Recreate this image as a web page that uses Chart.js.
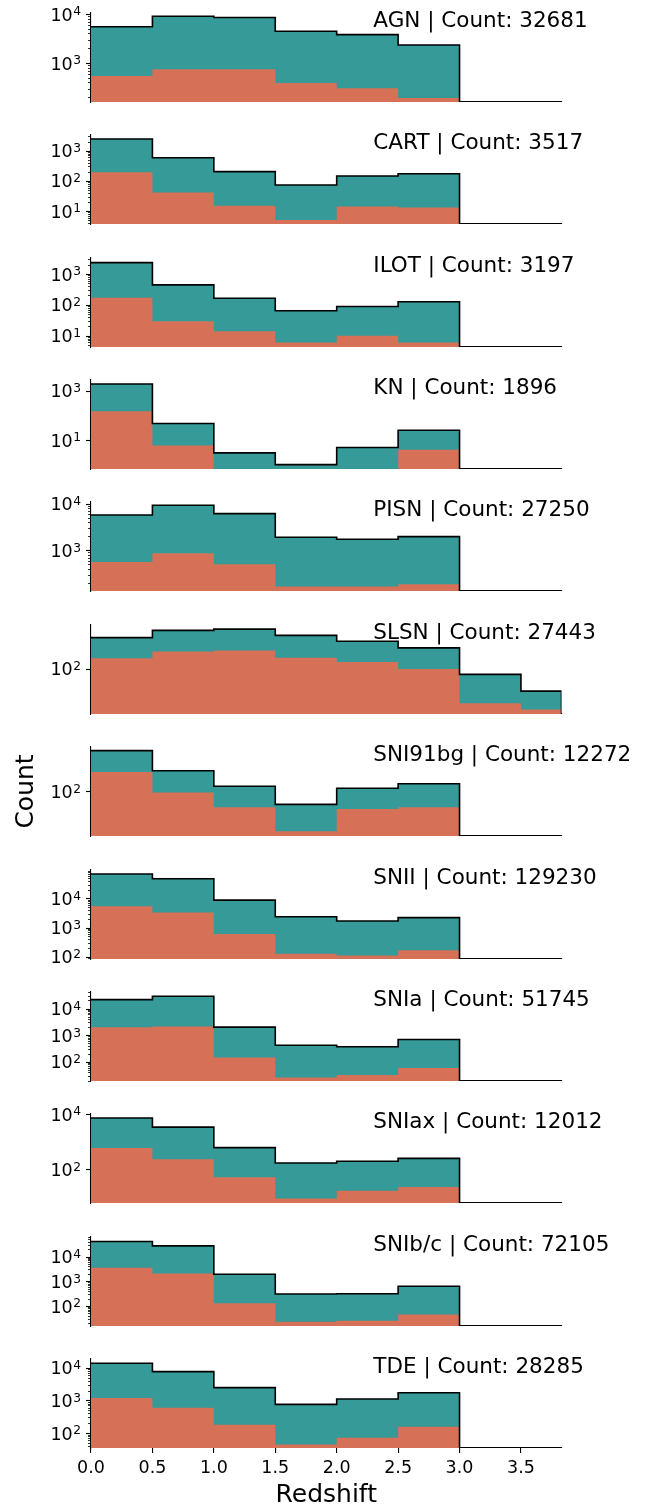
<!DOCTYPE html>
<html>
<head>
<meta charset="utf-8">
<script src="https://cdn.jsdelivr.net/npm/chart.js@4.4.0/dist/chart.umd.min.js"></script>
<style>
html,body{margin:0;padding:0;background:#fff;}
#wrap{position:relative;width:657px;height:1511px;overflow:hidden;background:#fff;}
#wrap canvas{position:absolute;left:0;}
</style>
</head>
<body>
<div id="wrap"></div>
<script>
// ---------- data ----------
const classNames = ['AGN','CART','ILOT','KN','PISN','SLSN','SNI91bg','SNII','SNIa','SNIax','SNIb/c','TDE'];
const classCounts = [32681, 3517, 3197, 1896, 27250, 27443, 12272, 129230, 51745, 12012, 72105, 28285];

const binEdges = [0, 0.5, 1.0, 1.5, 2.0, 2.5, 3.0];
const binEdgesSLSN = [0, 0.5, 1.0, 1.5, 2.0, 2.5, 3.0, 3.5, 3.83];

const agnTotal     = [5500, 8980, 8500, 4440, 3790, 2330];
const agnSubset    = [543, 744, 744, 391, 305, 193];
const cartTotal    = [2440, 586, 202, 73, 145, 173];
const cartSubset   = [193, 41, 15, 5, 14, 13];
const ilotTotal    = [2320, 441, 163, 64, 88, 125];
const ilotSubset   = [168, 29, 14, 6, 10, 6];
const knTotal      = [1870, 47, 3, 1, 5, 25];
const knSubset     = [146, 6, null, null, null, 4];
const pisnTotal    = [5700, 9200, 6100, 1900, 1720, 1960];
const pisnSubset   = [562, 863, 501, 167, 167, 187];
const slsnTotal    = [3374, 7640, 8840, 4365, 2228, 1052, 53, 8];
const slsnSubset   = [331, 703, 785, 343, 212, 97, 2, 1];
const sni91bgTotal = [10640, 1056, 178, 22, 141, 235];
const sni91bgSubset= [898, 86, 16, 1, 13, 16];
const sniiTotal    = [68900, 47400, 8740, 2350, 1690, 2200];
const sniiSubset   = [5420, 3290, 601, 127, 111, 169];
const sniaTotal    = [21500, 29000, 2000, 420, 370, 690];
const sniaSubset   = [2000, 2140, 147, 26, 32, 59];
const sniaxTotal   = [7160, 3365, 615, 170, 198, 251];
const sniaxSubset  = [596, 231, 52, 9, 17, 23];
const snibcTotal   = [40400, 27100, 1920, 306, 313, 630];
const snibcSubset  = [3490, 2050, 129, 23, 25, 45];
const tdeTotal     = [13600, 7550, 2457, 755, 1104, 1718];
const tdeSubset    = [1183, 598, 179, 45, 72, 156];

// axis limits (log10) and tick decades
const yLogMin = [2.204, 0.57, 0.632, -0.176, 2.128, -0.1975, -0.238, 1.924, 1.283, 0.788, 1.19, 1.543];
const yLogMax = [4.02, 3.52, 3.516, 3.434, 4.034, 4.147, 4.208, 4.976, 4.619, 4.001, 4.79, 4.265];
const majorDecades = [[3,4],[1,2,3],[1,2,3],[1,3],[3,4],[2],[2],[2,3,4],[2,3,4],[2,4],[2,3,4],[2,3,4]];
const hasMinor = [true,true,true,false,true,false,false,true,true,false,true,true];
const xTicks = [0, 0.5, 1.0, 1.5, 2.0, 2.5, 3.0, 3.5];
const xMax = 3.83;

const totals  = [agnTotal, cartTotal, ilotTotal, knTotal, pisnTotal, slsnTotal, sni91bgTotal, sniiTotal, sniaTotal, sniaxTotal, snibcTotal, tdeTotal];
const subsets = [agnSubset, cartSubset, ilotSubset, knSubset, pisnSubset, slsnSubset, sni91bgSubset, sniiSubset, sniaSubset, sniaxSubset, snibcSubset, tdeSubset];
const edgesFor = classNames.map(n => n === 'SLSN' ? binEdgesSLSN : binEdges);

// ---------- style ----------
const TEAL = '#359a98';
const ORANGE = '#d67157';
const FONT = "'DejaVu Sans', 'Liberation Sans', sans-serif";

function stepPoints(edges, vals) {
  const pts = [];
  vals.forEach((v, i) => {
    if (v === null || v <= 0) { pts.push({x: edges[i], y: null}); }
    else { pts.push({x: edges[i], y: v}); pts.push({x: edges[i+1], y: v}); }
  });
  return pts;
}

const axisDecor = {
  id: 'axisDecor',
  afterDraw(chart, args, opts) {
    const ctx = chart.ctx;
    const ys = chart.scales.y;
    const area = chart.chartArea;
    const x0 = area.left;
    ctx.save();
    ctx.strokeStyle = '#000';
    if (opts.minor) {
      ctx.lineWidth = 0.8;
      const lo = Math.floor(Math.log10(ys.min)), hi = Math.ceil(Math.log10(ys.max));
      for (let e = lo; e <= hi; e++) {
        for (let k = 2; k <= 9; k++) {
          const v = k * Math.pow(10, e);
          if (v < ys.min || v > ys.max) continue;
          const py = Math.round(ys.getPixelForValue(v)) + 0.5;
          ctx.beginPath(); ctx.moveTo(x0 - 3, py); ctx.lineTo(x0, py); ctx.stroke();
        }
      }
    }
    ctx.lineWidth = 1.1;
    ctx.fillStyle = '#000';
    opts.majors.forEach(e => {
      const v = Math.pow(10, e);
      if (v < ys.min * 0.999 || v > ys.max * 1.001) return;
      const py = ys.getPixelForValue(v);
      const pr = Math.round(py) + 0.5;
      ctx.beginPath(); ctx.moveTo(x0 - 5, pr); ctx.lineTo(x0, pr); ctx.stroke();
      const right = x0 - 10;
      ctx.font = '12.25px ' + FONT;
      ctx.textAlign = 'right';
      ctx.textBaseline = 'alphabetic';
      const ex = String(e);
      const exW = ctx.measureText(ex).width;
      ctx.fillText(ex, right, py + 6.6 - 5.2);
      ctx.font = '17.5px ' + FONT;
      ctx.fillText('10', right - exW - 0.5, py + 6.6);
    });
    ctx.font = '21.5px ' + FONT;
    ctx.textAlign = 'left';
    ctx.textBaseline = 'alphabetic';
    ctx.fillText(opts.label, area.left + 0.6 * (area.right - area.left), area.top + 13.8);
    ctx.restore();
  }
};

const wrap = document.getElementById('wrap');
const panelTop0 = 13, panelStep = 122.36, plotH = 89, padTop = 10;

classNames.forEach((name, i) => {
  const last = i === classNames.length - 1;
  const top = Math.round(panelTop0 + panelStep * i);
  const axisH = last ? 63 : 6;
  const ch = padTop + plotH + axisH;
  const cv = document.createElement('canvas');
  cv.width = 657; cv.height = ch;
  cv.style.width = '657px'; cv.style.height = ch + 'px';
  cv.style.top = (top - padTop) + 'px';
  wrap.appendChild(cv);

  const edges = edgesFor[i];
  const yMin = Math.pow(10, yLogMin[i]);
  const yMax = Math.pow(10, yLogMax[i]);
  const outline = stepPoints(edges, totals[i]);
  outline.push({x: edges[edges.length - 1], y: yMin});

  new Chart(cv.getContext('2d'), {
    type: 'line',
    data: {
      datasets: [
        { label: 'outline', data: outline, borderColor: '#000', borderWidth: 1.6, fill: false,
          pointRadius: 0, tension: 0, order: 0 },
        { label: 'subset', data: stepPoints(edges, subsets[i]), borderWidth: 0, borderColor: 'rgba(0,0,0,0)',
          backgroundColor: ORANGE, fill: 'start', pointRadius: 0, tension: 0, order: 1 },
        { label: 'total', data: stepPoints(edges, totals[i]), borderWidth: 0, borderColor: 'rgba(0,0,0,0)',
          backgroundColor: TEAL, fill: 'start', pointRadius: 0, tension: 0, order: 2 }
      ]
    },
    options: {
      responsive: false,
      animation: false,
      devicePixelRatio: 1,
      events: [],
      layout: { padding: { left: 0, right: 95.5, top: padTop, bottom: 0 } },
      plugins: {
        legend: { display: false },
        tooltip: { enabled: false },
        axisDecor: { majors: majorDecades[i], minor: hasMinor[i], label: name + ' | Count: ' + classCounts[i] }
      },
      scales: {
        x: {
          type: 'linear', min: 0, max: xMax,
          afterFit: s => { s.height = axisH; },
          afterBuildTicks: s => { s.ticks = xTicks.map(v => ({ value: v })); },
          border: { display: true, color: '#000', width: 1.1 },
          grid: { display: last, drawOnChartArea: false, drawTicks: true, tickLength: 5, color: '#000', lineWidth: 1.1 },
          ticks: { display: last, color: '#000', padding: 5, maxRotation: 0, autoSkip: false,
                   font: { family: FONT, size: 17.5 }, callback: v => Number(v).toFixed(1) },
          title: { display: last, text: 'Redshift', color: '#000', font: { family: FONT, size: 25 },
                   padding: { top: 0, bottom: 1 } }
        },
        y: {
          type: 'logarithmic', min: yMin, max: yMax,
          afterFit: s => { s.width = 91; },
          border: { display: true, color: '#000', width: 1.1 },
          grid: { display: false },
          ticks: { display: false },
          title: { display: i === 6, text: 'Count', color: '#000', font: { family: FONT, size: 25 },
                   padding: { top: 11, bottom: 0 } }
        }
      }
    },
    plugins: [axisDecor]
  });
});
</script>
</body>
</html>
